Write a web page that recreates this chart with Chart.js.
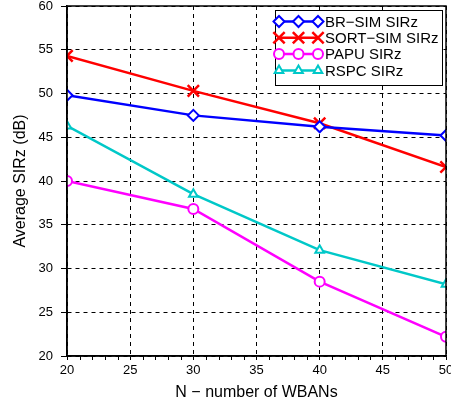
<!DOCTYPE html>
<html>
<head>
<meta charset="utf-8">
<script src="https://cdn.jsdelivr.net/npm/chart.js@4/dist/chart.umd.min.js"></script>
<style>
  html, body { margin: 0; padding: 0; background: #fff; }
  #wrap { width: 451px; height: 405px; position: relative; }
</style>
</head>
<body>
<div id="wrap"><canvas id="c" width="451" height="405"></canvas></div>
<script>
const xValues = [20, 30, 40, 50];
const brSim = [49.8, 47.5, 46.2, 45.2];
const sortSim = [54.3, 50.3, 46.6, 41.6];
const papu = [40.0, 36.8, 28.5, 22.2];
const rspc = [46.3, 38.5, 32.1, 28.2];
const seriesNames = ['BR\u2212SIM SIRz', 'SORT\u2212SIM SIRz', 'PAPU SIRz', 'RSPC SIRz'];
const xTitle = 'N \u2212 number of WBANs';
const yTitle = 'Average SIRz (dB)';

const FONT = '"Liberation Sans", Arial, Helvetica, sans-serif';
const styles = [
  { color: '#0000FF', point: 'rectRot', radius: 5.5, bw: 2 },
  { color: '#FF0000', point: 'crossRot', radius: 8, bw: 2.5 },
  { color: '#FF00FF', point: 'circle', radius: 5, bw: 2 },
  { color: '#00C8C8', point: 'triangle', radius: 5, bw: 2 }
];
const seriesValues = [brSim, sortSim, papu, rspc];

const datasets = seriesValues.map((vals, i) => ({
  label: seriesNames[i],
  data: xValues.map((x, j) => ({ x: x, y: vals[j] })),
  borderColor: styles[i].color,
  backgroundColor: '#ffffff',
  borderWidth: 2.5,
  pointStyle: styles[i].point,
  pointRadius: styles[i].radius,
  pointBorderWidth: styles[i].bw,
  pointBorderColor: styles[i].color,
  pointBackgroundColor: '#ffffff',
  tension: 0
}));

const framePlugin = {
  id: 'frame',
  afterDraw(chart) {
    const ctx = chart.ctx;
    const a = chart.chartArea;
    const xs = chart.scales.x;
    ctx.save();
    // minor ticks on x axis
    ctx.strokeStyle = '#000';
    ctx.lineWidth = 1;
    ctx.beginPath();
    for (let v = xs.min; v <= xs.max; v += 1) {
      if (v % 5 === 0) continue;
      const px = Math.round(xs.getPixelForValue(v)) + 0.5;
      ctx.moveTo(px, a.bottom);
      ctx.lineTo(px, a.bottom + 4);
    }
    ctx.stroke();
    // box
    ctx.lineWidth = 1.5;
    ctx.strokeRect(a.left, a.top, a.right - a.left, a.bottom - a.top);

    // legend
    const bx = a.right - 171, by = a.top + 4, bw = 167, bh = 75;
    ctx.fillStyle = '#fff';
    ctx.fillRect(bx, by, bw, bh);
    ctx.lineWidth = 1;
    ctx.strokeStyle = '#000';
    ctx.strokeRect(bx + 0.5, by + 0.5, bw, bh);
    ctx.font = '15px ' + FONT;
    ctx.textBaseline = 'middle';
    ctx.textAlign = 'left';
    chart.data.datasets.forEach((ds, i) => {
      const cy = by + 11.5 + i * 16.3;
      const x0 = bx + 4, x1 = bx + 43;
      ctx.strokeStyle = ds.borderColor;
      ctx.lineWidth = 2.5;
      ctx.beginPath();
      ctx.moveTo(x0, cy);
      ctx.lineTo(x1, cy);
      ctx.stroke();
      [x0, (x0 + x1) / 2, x1].forEach(px => {
        ctx.fillStyle = '#fff';
        ctx.strokeStyle = ds.borderColor;
        ctx.lineWidth = ds.pointBorderWidth;
        Chart.helpers.drawPoint(ctx, { pointStyle: ds.pointStyle, radius: ds.pointRadius, borderWidth: ds.pointBorderWidth, rotation: 0 }, px, cy);
      });
      ctx.fillStyle = '#000';
      ctx.fillText(ds.label, x1 + 7, cy + 1);
    });
    ctx.restore();
  }
};

new Chart(document.getElementById('c'), {
  type: 'line',
  data: { datasets: datasets },
  options: {
    responsive: false,
    animation: false,
    devicePixelRatio: 1,
    layout: { autoPadding: false, padding: { left: 0, right: 5, top: 6, bottom: 0 } },
    plugins: { legend: { display: false }, tooltip: { enabled: false } },
    scales: {
      x: {
        type: 'linear',
        min: 20, max: 50,
        ticks: { stepSize: 5, color: '#000', font: { family: FONT, size: 13 }, padding: 3, maxRotation: 0 },
        grid: { color: '#000', lineWidth: 1, tickLength: 4, tickColor: '#000' },
        border: { display: true, color: '#000', width: 1.5, dash: [4, 4] },
        title: { display: true, text: xTitle, color: '#000', font: { family: FONT, size: 16 }, padding: { top: 0, bottom: 3 } },
        afterFit(s) { s.height = 49; s.paddingLeft = 0; s.paddingRight = 0; }
      },
      y: {
        min: 20, max: 60,
        ticks: { stepSize: 5, color: '#000', font: { family: FONT, size: 13 }, padding: 8 },
        grid: { color: '#000', lineWidth: 1, tickLength: 6, tickColor: '#000' },
        border: { display: true, color: '#000', width: 1.5, dash: [4, 4] },
        title: { display: true, text: yTitle, color: '#000', font: { family: FONT, size: 16 }, padding: { top: 11, bottom: 0 } },
        afterFit(s) { s.width = 67; s.paddingTop = 0; s.paddingBottom = 0; }
      }
    }
  },
  plugins: [framePlugin]
});
</script>
</body>
</html>
